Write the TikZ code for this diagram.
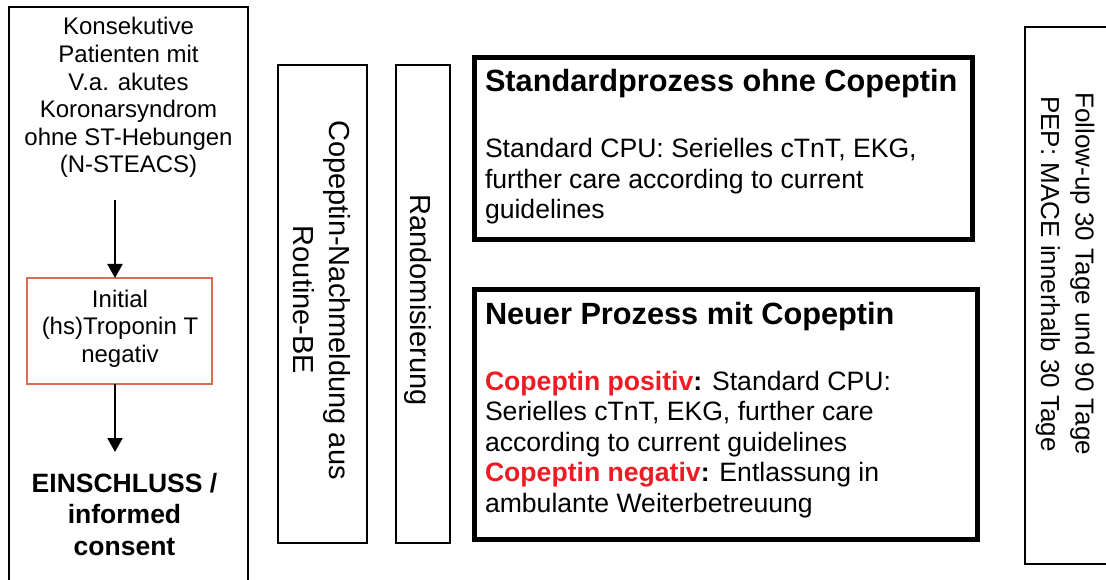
\documentclass[tikz,border=0pt]{standalone}
\usepackage{fontspec}
\setmainfont{Liberation Sans}
\usetikzlibrary{arrows.meta}
\definecolor{hot}{RGB}{237,28,36}
\definecolor{tropline}{RGB}{217,108,84}
% font size / baseline skip in one go
\newcommand\fs[2]{\fontsize{#1}{#2}\selectfont}
% stacked lines, baseline of the block = baseline of its first line
\newcommand\blockc[1]{\begin{tabular}[t]{@{}c@{}}#1\end{tabular}}
\newcommand\blockl[1]{\begin{tabular}[t]{@{}l@{}}#1\end{tabular}}
\tikzset{
  frame/.style={draw, line width=1.8pt, outer sep=0pt, inner sep=0pt},
  thinframe/.style={draw, line width=1.7pt, outer sep=0pt, inner sep=0pt},
  heavyframe/.style={draw, line width=4.6pt, outer sep=0pt, inner sep=0pt},
  tropframe/.style={draw=tropline, line width=2pt, outer sep=0pt, inner sep=0pt},
  txt/.style={inner sep=0pt, outer sep=0pt},
  arr/.style={line width=2pt, -{Triangle[width=15pt,length=14pt]}},
}
\begin{document}
\begin{tikzpicture}[x=1pt, y=1pt]
\useasboundingbox (0,0) rectangle (1106,-580);
\fill[white] (0,0) rectangle (1106,-580);

% inclusion column
\node[frame, minimum width=239pt, minimum height=640pt, anchor=north west] (leftbox) at (9,-7) {};
\node[txt, anchor=base, font=\fs{24}{27.6}] (intro) at (128.5,-35)
  {\blockc{Konsekutive\\Patienten mit\\V.a. akutes\\Koronarsyndrom\\ohne ST-Hebungen\\(N-STEACS)}};
\node[tropframe, minimum width=185pt, minimum height=106pt] (trop) at (119.5,-331) {};
\node[txt, anchor=base, font=\fs{24}{27.6}] (troptext) at (120,-307)
  {\blockc{Initial\\(hs)Troponin T\\negativ}};
\node[txt, anchor=base, font=\bfseries\fs{26.5}{31.5}] (incl) at (124.5,-492)
  {\blockc{EINSCHLUSS /\\informed\\consent}};
\coordinate (a1) at (115,-200);
\coordinate (a2) at (115,-452);
\draw[arr] (a1) -- (a1 |- trop.north);
\draw[arr] (a2 |- trop.south) -- (a2);

% vertical steps
\node[thinframe, minimum width=89pt, minimum height=478pt] (copbox) at (322.5,-304) {};
\node[txt, rotate=-90, anchor=base, font=\fs{29}{36}] (coptext) at (329,-300)
  {\blockc{Copeptin-Nachmeldung aus\\Routine-BE}};
\node[thinframe, minimum width=54pt, minimum height=478pt] (randbox) at (423,-304) {};
\node[txt, rotate=-90, anchor=base, font=\fs{29}{36}] (randtext) at (410,-300)
  {Randomisierung};

% study arms
\node[heavyframe, minimum width=498pt, minimum height=182pt] (stdbox) at (723.5,-148.5) {};
\node[txt, anchor=base west, font=\bfseries\fs{30.7}{35}] (stdtitle) at (485,-92)
  {Standardprozess ohne Copeptin};
\node[txt, anchor=base west, font=\fs{26.6}{30.3}] (stdbody) at (485,-158)
  {\blockl{Standard CPU: Serielles cTnT, EKG,\\further care according to current\\guidelines}};

\node[heavyframe, minimum width=503pt, minimum height=250pt] (newbox) at (726,-414.5) {};
\node[txt, anchor=base west, font=\bfseries\fs{30.7}{35}] (newtitle) at (485,-324)
  {Neuer Prozess mit Copeptin};
\node[txt, anchor=base west, font=\fs{26.6}{30.5}] (newbody) at (485,-390)
  {\blockl{\textbf{{\color{hot}Copeptin positiv}:} Standard CPU:\\
   Serielles cTnT, EKG, further care\\
   according to current guidelines\\
   \textbf{{\color{hot}Copeptin negativ}:} Entlassung in\\
   ambulante Weiterbetreuung}};

% follow-up
\node[frame, minimum width=140pt, minimum height=537pt, anchor=north west] (fubox) at (1025,-27) {};
\node[txt, rotate=-90, anchor=base, font=\fs{26}{34.5}] (futext) at (1075.7,-274)
  {\blockc{Follow-up 30 Tage und 90 Tage\\PEP: MACE innerhalb 30 Tage}};
\end{tikzpicture}
\end{document}
